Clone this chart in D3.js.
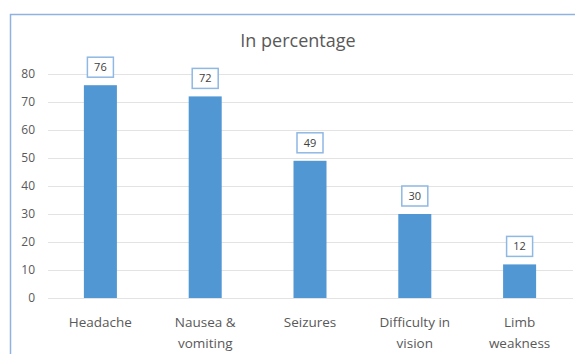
<!DOCTYPE html>
<html><head><meta charset="utf-8">
<script src="https://cdn.jsdelivr.net/npm/d3@7"></script>
<style>body{margin:0;background:#fff;}svg{display:block;font-family:"Open Sans",sans-serif;}</style>
</head><body>
<svg id="c" width="575" height="354"></svg>
<script>
const categories = [["Headache"], ["Nausea &", "vomiting"], ["Seizures"], ["Difficulty in", "vision"], ["Limb", "weakness"]];
const values = [76, 72, 49, 30, 12];
const yTicks = [0, 10, 20, 30, 40, 50, 60, 70, 80];
const title = "In percentage";

const svg = d3.select("#c");
const keys = categories.map(c => c.join(" "));
const x = d3.scaleBand().domain(keys).range([48, 572]).paddingInner(0.685).paddingOuter(0.3425);
const y = d3.scaleLinear().domain([0, 80]).range([298, 74]);

// chart border
svg.append("rect").attr("x", 10.5).attr("y", 14.5).attr("width", 580).attr("height", 360)
  .attr("fill", "none").attr("stroke", "#8fb3e0").attr("stroke-width", 1.5);

// gridlines
svg.append("g").selectAll("line").data(yTicks).join("line")
  .attr("x1", 48).attr("x2", 573).attr("y1", d => y(d) + 0.5).attr("y2", d => y(d) + 0.5)
  .attr("stroke", "#e3e3e3").attr("stroke-width", 1);

// y axis
const ya = svg.append("g").attr("transform", "translate(35,0)")
  .call(d3.axisLeft(y).tickValues(yTicks).tickSize(0).tickPadding(0));
ya.select(".domain").remove();
ya.selectAll("text").attr("fill", "#595959").style("font-size", "12px").style("font-family", "'Open Sans',sans-serif");

// bars
svg.append("g").selectAll("rect").data(values).join("rect")
  .attr("x", (d, i) => x(keys[i])).attr("width", x.bandwidth())
  .attr("y", d => y(d)).attr("height", d => y(0) - y(d))
  .attr("fill", "#5197d3");

// data labels
const lg = svg.append("g").selectAll("g").data(values).join("g")
  .attr("transform", (d, i) => `translate(${x(keys[i]) + x.bandwidth() / 2},${y(d) - 18})`);
lg.append("rect").attr("x", -13).attr("y", -10).attr("width", 26).attr("height", 20)
  .attr("fill", "#fff").attr("stroke", "#8fb8e3").attr("stroke-width", 1.5);
lg.append("text").attr("text-anchor", "middle").attr("dy", "0.35em")
  .attr("fill", "#404040").style("font-size", "11px").text(d => d);

// x labels
const xl = svg.append("g").selectAll("text").data(categories).join("text")
  .attr("x", (d, i) => x(keys[i]) + x.bandwidth() / 2).attr("y", 327)
  .attr("text-anchor", "middle").attr("fill", "#595959").style("font-size", "13.5px");
xl.selectAll("tspan").data(d => d).join("tspan")
  .attr("x", function () { return d3.select(this.parentNode).attr("x"); })
  .attr("dy", (d, i) => i === 0 ? 0 : 21).text(d => d);

// title
svg.append("text").attr("x", 298).attr("y", 47).attr("text-anchor", "middle")
  .attr("fill", "#595959").style("font-size", "18px").text(title);
</script>
</body></html>
